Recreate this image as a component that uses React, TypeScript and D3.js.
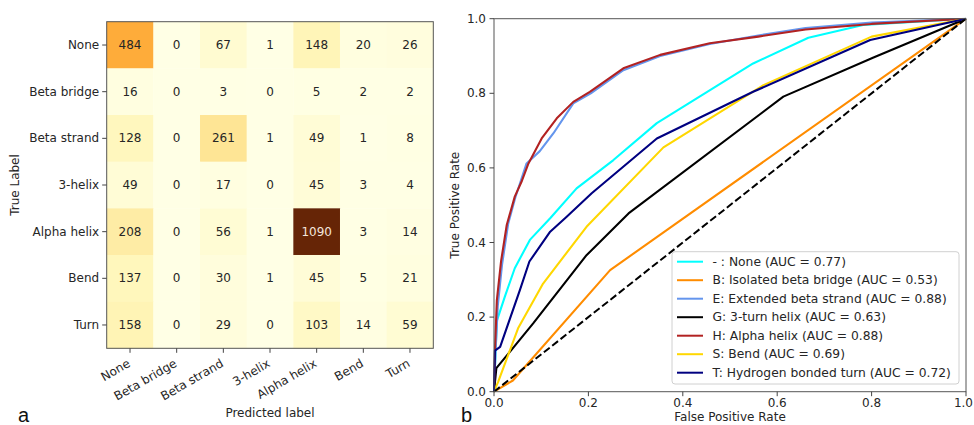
import React from "react";
import * as d3 from "d3";

// ---------- Data ----------
const classLabels = ["None", "Beta bridge", "Beta strand", "3-helix", "Alpha helix", "Bend", "Turn"];
const matrixRows = [
  [484, 0, 67, 1, 148, 20, 26],
  [16, 0, 3, 0, 5, 2, 2],
  [128, 0, 261, 1, 49, 1, 8],
  [49, 0, 17, 0, 45, 3, 4],
  [208, 0, 56, 1, 1090, 3, 14],
  [137, 0, 30, 1, 45, 5, 21],
  [158, 0, 29, 0, 103, 14, 59],
];
const ylOrBr = ["#ffffe5", "#fff7bc", "#fee391", "#fec44f", "#fe9929", "#ec7014", "#cc4c02", "#993404", "#662506"];

const rocTicks = [0, 0.2, 0.4, 0.6, 0.8, 1.0];

const rocNone = [[0, 0], [0.006, 0.19], [0.023, 0.255], [0.044, 0.331], [0.076, 0.407], [0.119, 0.465], [0.175, 0.545], [0.253, 0.621], [0.345, 0.72], [0.549, 0.88], [0.666, 0.949], [0.782, 0.983], [1, 1]];
const rocBridge = [[0, 0], [0.04, 0.03], [0.246, 0.326], [1, 1]];
const rocStrand = [[0, 0], [0.003, 0.1], [0.008, 0.23], [0.017, 0.34], [0.03, 0.45], [0.045, 0.52], [0.069, 0.612], [0.097, 0.645], [0.126, 0.693], [0.168, 0.773], [0.205, 0.8], [0.274, 0.862], [0.352, 0.9], [0.457, 0.932], [0.56, 0.955], [0.66, 0.975], [0.8, 0.99], [1, 1]];
const roc3Helix = [[0, 0], [0.005, 0.063], [0.083, 0.183], [0.196, 0.366], [0.285, 0.478], [0.613, 0.791], [0.804, 0.896], [1, 1]];
const rocAlpha = [[0, 0], [0.002, 0.11], [0.006, 0.245], [0.015, 0.35], [0.027, 0.447], [0.044, 0.523], [0.059, 0.565], [0.073, 0.612], [0.101, 0.679], [0.133, 0.733], [0.168, 0.777], [0.203, 0.804], [0.274, 0.867], [0.352, 0.903], [0.457, 0.934], [0.56, 0.952], [0.66, 0.971], [0.8, 0.986], [1, 1]];
const rocBend = [[0, 0], [0.009, 0.027], [0.051, 0.17], [0.104, 0.29], [0.196, 0.442], [0.359, 0.655], [0.571, 0.822], [0.8, 0.952], [1, 1]];
const rocTurn = [[0, 0], [0.002, 0.11], [0.013, 0.12], [0.055, 0.273], [0.075, 0.349], [0.119, 0.429], [0.154, 0.469], [0.207, 0.532], [0.345, 0.679], [0.549, 0.804], [0.797, 0.943], [1, 1]];
const rocDiagonal = [[0, 0], [1, 1]];

const rocNames = [
  "- : None (AUC = 0.77)",
  "B: Isolated beta bridge (AUC = 0.53)",
  "E: Extended beta strand (AUC = 0.88)",
  "G: 3-turn helix (AUC = 0.63)",
  "H: Alpha helix (AUC = 0.88)",
  "S: Bend (AUC = 0.69)",
  "T: Hydrogen bonded turn (AUC = 0.72)",
];
const rocSeries = [rocNone, rocBridge, rocStrand, roc3Helix, rocAlpha, rocBend, rocTurn];
const rocColors = ["#00ffff", "#ff8c00", "#6495ed", "#000000", "#b22222", "#ffd700", "#000080"];

const FONT = "'DejaVu Sans', Verdana, sans-serif";

function ConfusionMatrix() {
  const left = 106.7, top = 21.7, size = 326.6;
  const x = d3.scaleBand<number>().domain(d3.range(7)).range([left, left + size]);
  const y = d3.scaleBand<number>().domain(d3.range(7)).range([top, top + size]);
  const vmax = d3.max(matrixRows.flat()) as number;
  const color = d3
    .scaleLinear<string>()
    .domain(ylOrBr.map((_, i) => (i / (ylOrBr.length - 1)) * vmax))
    .range(ylOrBr)
    .interpolate(d3.interpolateRgb);
  const bw = x.bandwidth();
  return (
    <g fontFamily={FONT}>
      {matrixRows.map((row, r) =>
        row.map((v, c) => (
          <rect key={`c${r}-${c}`} x={x(c)} y={y(r)} width={bw + 0.3} height={bw + 0.3} fill={color(v)} />
        ))
      )}
      {matrixRows.map((row, r) =>
        row.map((v, c) => (
          <text
            key={`t${r}-${c}`}
            x={(x(c) as number) + bw / 2}
            y={(y(r) as number) + bw / 2}
            textAnchor="middle"
            dominantBaseline="central"
            fontSize={12}
            fill={v > vmax / 2 ? "#f4e6dc" : "#262626"}
          >
            {v}
          </text>
        ))
      )}
      <rect x={left} y={top} width={size} height={size} fill="none" stroke="#555" strokeWidth={1} />
      {classLabels.map((lab, i) => {
        const cy = (y(i) as number) + bw / 2;
        return (
          <g key={`yl${i}`}>
            <line x1={left - 4.5} x2={left} y1={cy} y2={cy} stroke="#444" strokeWidth={1} />
            <text x={left - 7.5} y={cy} textAnchor="end" dominantBaseline="central" fontSize={12} fill="#262626">
              {lab}
            </text>
          </g>
        );
      })}
      {classLabels.map((lab, i) => {
        const cx = (x(i) as number) + bw / 2;
        return (
          <g key={`xl${i}`}>
            <line x1={cx} x2={cx} y1={top + size} y2={top + size + 4.5} stroke="#444" strokeWidth={1} />
            <text
              transform={`translate(${cx + 1},${top + size + 17.5}) rotate(-30)`}
              textAnchor="end"
              fontSize={12}
              fill="#262626"
            >
              {lab}
            </text>
          </g>
        );
      })}
      <text
        transform={`translate(19,${top + size / 2}) rotate(-90)`}
        textAnchor="middle"
        fontSize={12}
        fill="#262626"
      >
        True Label
      </text>
      <text x={left + size / 2} y={417} textAnchor="middle" fontSize={12} fill="#262626">
        Predicted label
      </text>
    </g>
  );
}

function RocPlot() {
  const x0 = 494, x1 = 966, y0 = 391.7, y1 = 18.7;
  const x = d3.scaleLinear().domain([0, 1]).range([x0, x1]);
  const y = d3.scaleLinear().domain([0, 1]).range([y0, y1]);
  const line = d3
    .line<number[]>()
    .x((d) => x(d[0]))
    .y((d) => y(d[1]));
  const fs = 12;
  const legFs = 12.3;
  const legX = 672, legY = 251.7, legW = 287, legH = 132.3;
  const rowGap = 18.5;
  return (
    <g fontFamily={FONT}>
      <defs>
        <clipPath id="rocclip">
          <rect x={x0 - 1} y={y1 - 1} width={x1 - x0 + 2} height={y0 - y1 + 2} />
        </clipPath>
      </defs>
      <g clipPath="url(#rocclip)">
        {rocSeries.map((s, i) => (
          <path key={`r${i}`} d={line(s) as string} fill="none" stroke={rocColors[i]} strokeWidth={2.1} strokeLinejoin="round" />
        ))}
        <path d={line(rocDiagonal) as string} fill="none" stroke="#000" strokeWidth={2} strokeDasharray="7.4,3.2" />
      </g>
      <rect x={x0} y={y1} width={x1 - x0} height={y0 - y1} fill="none" stroke="#555" strokeWidth={1} />
      {rocTicks.map((t) => (
        <g key={`yt${t}`}>
          <line x1={x0 - 4.5} x2={x0} y1={y(t)} y2={y(t)} stroke="#444" />
          <text x={x0 - 8} y={y(t)} textAnchor="end" dominantBaseline="central" fontSize={fs} fill="#262626">
            {t.toFixed(1)}
          </text>
        </g>
      ))}
      {rocTicks.map((t) => {
        const last = t === 1;
        return (
          <g key={`xt${t}`}>
            <line x1={x(t)} x2={x(t)} y1={y0} y2={y0 + 4.5} stroke="#444" />
            <text
              x={last ? 973 : x(t)}
              y={y0 + 15}
              textAnchor={last ? "end" : "middle"}
              fontSize={fs}
              fill="#262626"
            >
              {t.toFixed(1)}
            </text>
          </g>
        );
      })}
      <text transform={`translate(459,${(y0 + y1) / 2}) rotate(-90)`} textAnchor="middle" fontSize={fs} fill="#262626">
        True Positive Rate
      </text>
      <text x={(x0 + x1) / 2} y={421} textAnchor="middle" fontSize={fs} fill="#262626">
        False Positive Rate
      </text>
      <rect x={legX} y={legY} width={legW} height={legH} rx={3} fill="#fff" fillOpacity={0.8} stroke="#d0d0d0" strokeWidth={1} />
      {rocNames.map((n, i) => {
        const ry = legY + 10 + i * rowGap;
        return (
          <g key={`lg${i}`}>
            <line x1={legX + 5} x2={legX + 31} y1={ry} y2={ry} stroke={rocColors[i]} strokeWidth={2} />
            <text x={legX + 40.5} y={ry} dominantBaseline="central" fontSize={legFs} fill="#262626">
              {n}
            </text>
          </g>
        );
      })}
    </g>
  );
}

export default function App() {
  return (
    <svg
      width={974}
      height={425}
      viewBox="0 0 974 425"
      style={{ position: "absolute", left: 0, top: 0, background: "#fff" }}
    >
      <rect x={0} y={0} width={974} height={425} fill="#fff" />
      <ConfusionMatrix />
      <RocPlot />
      <text x={18} y={422} fontFamily="'Liberation Sans', Arial, sans-serif" fontSize={20} fill="#111">
        a
      </text>
      <text x={461} y={422} fontFamily="'Liberation Sans', Arial, sans-serif" fontSize={20} fill="#111">
        b
      </text>
    </svg>
  );
}
